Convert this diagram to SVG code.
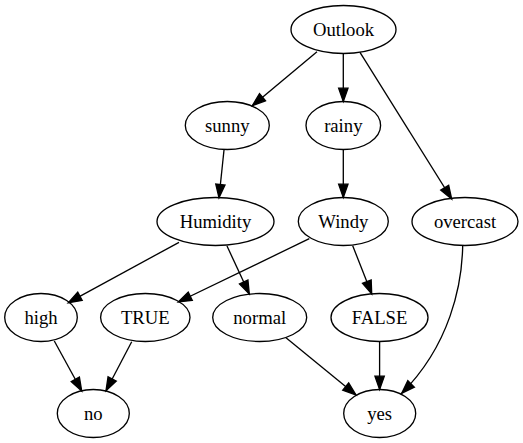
<svg xmlns="http://www.w3.org/2000/svg" width="523" height="443" viewBox="0 0 523 443">
<style>
.n ellipse{fill:none;stroke:#000;stroke-width:1.33}
.n text{font-family:"Liberation Serif","Times New Roman",serif;font-size:18.67px;text-anchor:middle;fill:#000}
.e path{fill:none;stroke:#000;stroke-width:1.33;marker-end:url(#a)}
</style>
<defs>
<marker id="a" markerUnits="userSpaceOnUse" markerWidth="16" markerHeight="12" refX="13.3" refY="4.67" orient="auto" overflow="visible">
<path d="M0,0 L13.3,4.67 L0,9.33 z" fill="#000" stroke="#000" stroke-width="1.33"/>
</marker>
</defs>
<rect width="523" height="443" fill="#fff"/>
<g id="edges" class="e">
<path d="M317,51.7 L252.3,105.7"/>
<path d="M343.3,53.5 L343.3,101.5"/>
<path d="M360,52.3 C390,100 420,148 451.7,199"/>
<path d="M224,150 L219,197.7"/>
<path d="M343.3,149.5 L343.3,197.5"/>
<path d="M179,242.3 L68.3,302.7"/>
<path d="M227,246 L249.3,294"/>
<path d="M309.3,238.7 L178.3,302"/>
<path d="M352.7,245.7 L371.7,294"/>
<path d="M462.7,245.7 C462,285 450,345 401.7,393.3"/>
<path d="M54.3,341 L81.7,391"/>
<path d="M131.7,341.7 L106,390.7"/>
<path d="M286,337.7 L356,395"/>
<path d="M379.6,341.5 L379.6,389.5"/>
</g>
<g id="Outlook" class="n"><ellipse cx="343.5" cy="29.5" rx="52.5" ry="24"/><text x="343.5" y="35.6">Outlook</text></g>
<g id="sunny" class="n"><ellipse cx="227.3" cy="125.5" rx="42" ry="24"/><text x="227.3" y="131.6">sunny</text></g>
<g id="rainy" class="n"><ellipse cx="343.3" cy="125.5" rx="37.3" ry="24"/><text x="343.3" y="131.6">rainy</text></g>
<g id="Humidity" class="n"><ellipse cx="215.5" cy="221.5" rx="58.5" ry="24"/><text x="215.5" y="227.6">Humidity</text></g>
<g id="Windy" class="n"><ellipse cx="343.3" cy="221.5" rx="45" ry="24"/><text x="343.3" y="227.6">Windy</text></g>
<g id="overcast" class="n"><ellipse cx="465" cy="221.5" rx="53" ry="24"/><text x="465" y="227.6">overcast</text></g>
<g id="high" class="n"><ellipse cx="41" cy="317.5" rx="36.3" ry="24"/><text x="41" y="323.6">high</text></g>
<g id="TRUE" class="n"><ellipse cx="145.3" cy="317.5" rx="44.7" ry="24"/><text x="145.3" y="323.6">TRUE</text></g>
<g id="normal" class="n"><ellipse cx="259.7" cy="317.5" rx="47" ry="24"/><text x="259.7" y="323.6">normal</text></g>
<g id="FALSE" class="n"><ellipse cx="379.5" cy="317.5" rx="48.5" ry="24"/><text x="379.5" y="323.6">FALSE</text></g>
<g id="no" class="n"><ellipse cx="93.3" cy="413.5" rx="36" ry="24"/><text x="93.3" y="419.6">no</text></g>
<g id="yes" class="n"><ellipse cx="379.7" cy="413.5" rx="36" ry="24"/><text x="379.7" y="419.6">yes</text></g>
</svg>
